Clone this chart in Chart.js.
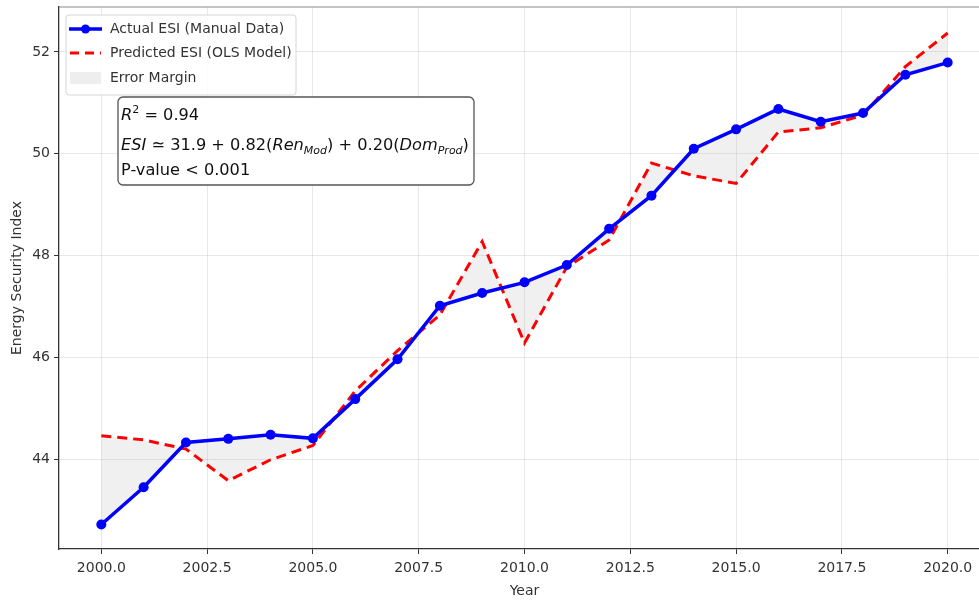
<!DOCTYPE html>
<html>
<head>
<meta charset="utf-8">
<script src="https://cdn.jsdelivr.net/npm/chart.js@4.4.1/dist/chart.umd.min.js"></script>
<style>
  html, body { margin: 0; padding: 0; background: #fff; overflow: hidden; }
  #wrap { width: 979px; height: 601px; overflow: hidden; }
  canvas { display: block; }
</style>
</head>
<body>
<div id="wrap"><canvas id="c" width="995" height="601"></canvas></div>
<script>
// Energy Security Index, 2000-2020
const years = [2000, 2001, 2002, 2003, 2004, 2005, 2006, 2007, 2008, 2009, 2010,
               2011, 2012, 2013, 2014, 2015, 2016, 2017, 2018, 2019, 2020];
const actualESI = [42.73, 43.46, 44.34, 44.41, 44.49, 44.42, 45.19, 45.97, 47.02, 47.27, 47.48,
                   47.82, 48.53, 49.18, 50.10, 50.48, 50.88, 50.63, 50.80, 51.55, 51.79];
const predictedESI = [44.47, 44.39, 44.21, 43.59, 44.00, 44.28, 45.35, 46.14, 46.84, 48.28, 46.29,
                      47.78, 48.31, 49.82, 49.57, 49.42, 50.43, 50.51, 50.76, 51.71, 52.37];
const xTicks = [2000, 2002.5, 2005, 2007.5, 2010, 2012.5, 2015, 2017.5, 2020];
const yTicks = [44, 46, 48, 50, 52];
const legendLabels = ['Actual ESI (Manual Data)', 'Predicted ESI (OLS Model)', 'Error Margin'];

const FONT = '"DejaVu Sans", "Liberation Sans", sans-serif';

const toPoints = vals => years.map((yr, i) => ({ x: yr, y: vals[i] }));

// draw a sequence of styled text runs (italic / sub / superscript)
function drawRuns(ctx, x, y, runs) {
  let cx = x;
  runs.forEach(r => {
    ctx.font = (r.italic ? 'italic ' : '') + r.size + 'px ' + FONT;
    ctx.fillText(r.text, cx, y + (r.dy || 0));
    cx += ctx.measureText(r.text).width;
  });
  return cx;
}

const overlay = {
  id: 'overlay',
  beforeDatasetsDraw(chart) {
    const { ctx, chartArea: a } = chart;
    ctx.save();
    ctx.strokeStyle = '#8a8a8a';
    ctx.lineWidth = 1.2;
    ctx.beginPath();
    ctx.moveTo(a.left, a.top);
    ctx.lineTo(a.right, a.top);
    ctx.lineTo(a.right, a.bottom);
    ctx.stroke();
    ctx.restore();
  },
  afterDraw(chart) {
    const ctx = chart.ctx;
    ctx.save();

    // legend frame
    const lx = 66, ly = 15, lw = 230, lh = 80;
    ctx.beginPath();
    ctx.roundRect(lx, ly, lw, lh, 3);
    ctx.fillStyle = 'rgba(255,255,255,0.85)';
    ctx.fill();
    ctx.strokeStyle = '#d6d6d6';
    ctx.lineWidth = 1;
    ctx.stroke();

    const rows = [29, 53, 78];
    // actual series sample
    ctx.strokeStyle = '#0000ff';
    ctx.lineWidth = 3.5;
    ctx.beginPath(); ctx.moveTo(69, rows[0]); ctx.lineTo(102, rows[0]); ctx.stroke();
    ctx.fillStyle = '#0000ff';
    ctx.beginPath(); ctx.arc(85.5, rows[0], 4.5, 0, Math.PI * 2); ctx.fill();
    // predicted series sample
    ctx.strokeStyle = '#ff0000';
    ctx.lineWidth = 3;
    ctx.setLineDash([9, 6]);
    ctx.beginPath(); ctx.moveTo(70, rows[1]); ctx.lineTo(101, rows[1]); ctx.stroke();
    ctx.setLineDash([]);
    // fill sample
    ctx.fillStyle = 'rgba(150,150,150,0.16)';
    ctx.fillRect(70, rows[2] - 6, 31, 12);

    ctx.fillStyle = '#333';
    ctx.font = '14px ' + FONT;
    ctx.textBaseline = 'middle';
    legendLabels.forEach((t, i) => ctx.fillText(t, 110, rows[i]));

    // model statistics box
    const bx = 118, by = 97, bw = 356, bh = 88;
    ctx.beginPath();
    ctx.roundRect(bx, by, bw, bh, 5);
    ctx.fillStyle = '#fff';
    ctx.fill();
    ctx.strokeStyle = '#555';
    ctx.lineWidth = 1.3;
    ctx.stroke();

    ctx.fillStyle = '#111';
    ctx.textBaseline = 'alphabetic';
    const tx = 121, S = 16.2, s = 11;
    drawRuns(ctx, tx, 120, [
      { text: 'R', italic: true, size: S },
      { text: '2', size: s, dy: -7 },
      { text: ' = 0.94', size: S }
    ]);
    drawRuns(ctx, tx, 150, [
      { text: 'ESI', italic: true, size: S },
      { text: ' \u2243 31.9 + 0.82(', size: S },
      { text: 'Ren', italic: true, size: S },
      { text: 'Mod', italic: true, size: s, dy: 4 },
      { text: ') + 0.20(', size: S },
      { text: 'Dom', italic: true, size: S },
      { text: 'Prod', italic: true, size: s, dy: 4 },
      { text: ')', size: S }
    ]);
    drawRuns(ctx, tx, 175, [{ text: 'P-value < 0.001', size: S }]);
    ctx.restore();
  }
};

new Chart(document.getElementById('c'), {
  type: 'line',
  data: {
    datasets: [
      {
        label: legendLabels[0],
        data: toPoints(actualESI),
        borderColor: '#0000ff',
        backgroundColor: '#0000ff',
        borderWidth: 3.5,
        pointRadius: 5,
        pointHoverRadius: 5,
        pointBorderWidth: 0,
        tension: 0,
        fill: false
      },
      {
        label: legendLabels[1],
        data: toPoints(predictedESI),
        borderColor: '#ff0000',
        borderWidth: 3,
        borderDash: [10, 6],
        pointRadius: 0,
        tension: 0,
        fill: { target: 0 },
        backgroundColor: 'rgba(150,150,150,0.14)'
      }
    ]
  },
  options: {
    responsive: false,
    animation: false,
    devicePixelRatio: 1,
    layout: { padding: { top: 7, right: 0, left: 0, bottom: 0 } },
    plugins: { legend: { display: false }, tooltip: { enabled: false } },
    scales: {
      x: {
        type: 'linear',
        min: 1999,
        max: 2021,
        afterBuildTicks: sc => { sc.ticks = xTicks.map(v => ({ value: v })); },
        afterFit: sc => { sc.height = 52; sc.paddingLeft = 0; sc.paddingRight = 0; },
        ticks: {
          callback: v => Number(v).toFixed(1),
          color: '#333',
          font: { family: FONT, size: 14 },
          padding: 6,
          maxRotation: 0,
          autoSkip: false
        },
        grid: { color: 'rgba(0,0,0,0.09)', tickColor: '#333', tickLength: 5, lineWidth: 1 },
        border: { color: '#333', width: 1.3 },
        title: { display: true, text: 'Year', color: '#333', font: { family: FONT, size: 14 }, padding: { top: 0, bottom: 1 } }
      },
      y: {
        min: 42.25,
        max: 52.88,
        afterBuildTicks: sc => { sc.ticks = yTicks.map(v => ({ value: v })); },
        afterFit: sc => { sc.width = 59; sc.paddingTop = 0; sc.paddingBottom = 0; },
        ticks: {
          color: '#333',
          font: { family: FONT, size: 14 },
          padding: 4
        },
        grid: { color: 'rgba(0,0,0,0.09)', tickColor: '#333', tickLength: 5, lineWidth: 1 },
        border: { color: '#333', width: 1.3 },
        title: { display: true, text: 'Energy Security Index', color: '#333', font: { family: FONT, size: 14 }, padding: { top: 9, bottom: 0 } }
      }
    }
  },
  plugins: [overlay]
});
</script>
</body>
</html>
